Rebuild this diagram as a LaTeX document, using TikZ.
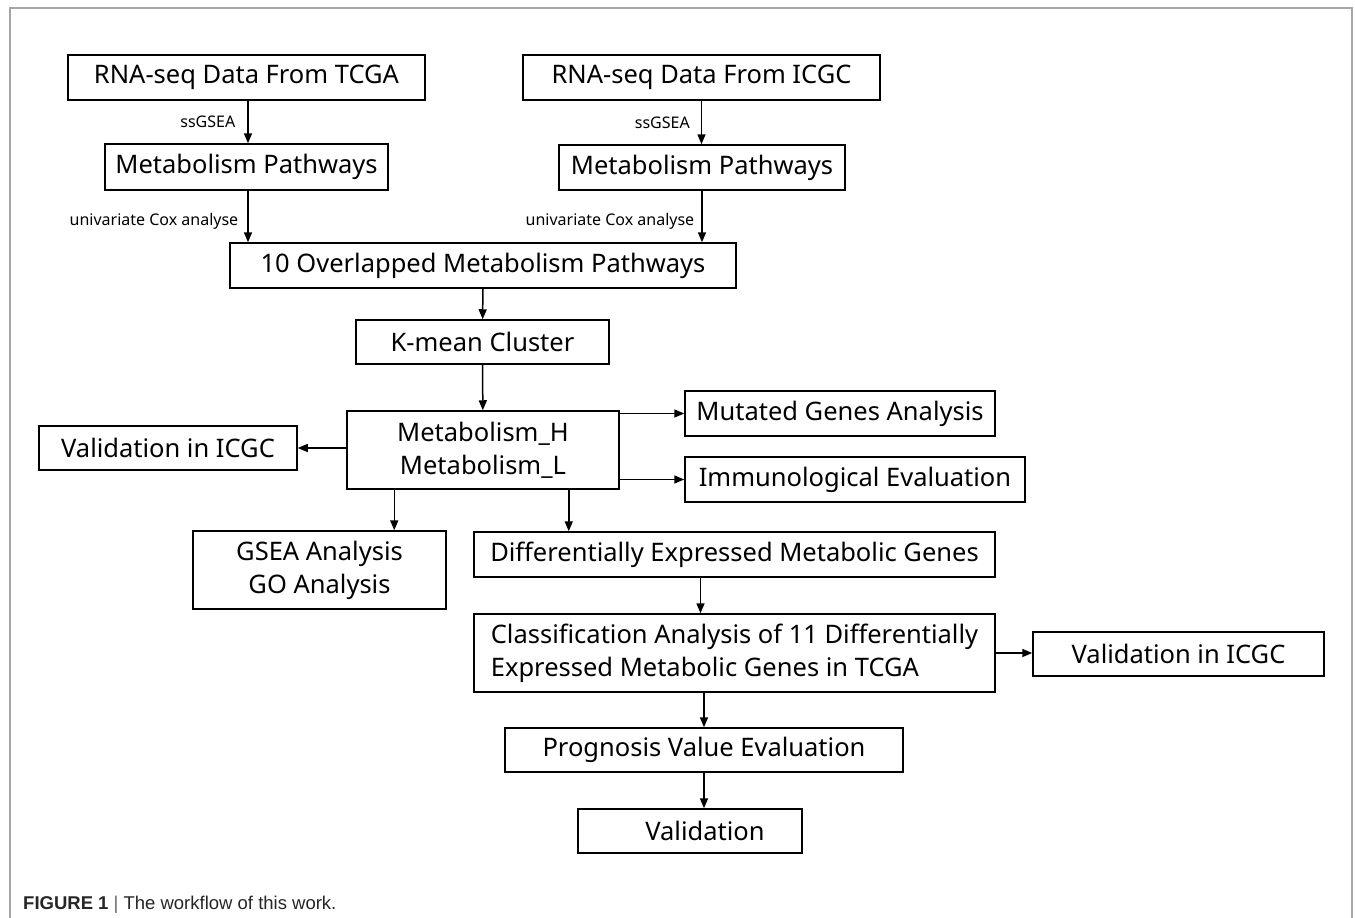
\documentclass[tikz,border=0pt]{standalone}
\usepackage{fontspec}
\setmainfont{Noto Sans}
\newfontfamily\capfont{Liberation Sans}
\usetikzlibrary{arrows.meta,positioning}

\tikzset{
  box/.style={draw, line width=1.5pt, inner sep=0pt, align=center,
    font=\fontsize{25.5pt}{33pt}\selectfont},
  lbl/.style={inner sep=0pt, font=\fontsize{16pt}{18pt}\selectfont},
  arr/.style={line width=1.5pt, -{Triangle[length=10pt,width=8pt]}},
}

\begin{document}
\begin{tikzpicture}[x=1pt, y=-1pt]
  \useasboundingbox (0,0) rectangle (1355,918);
  % frame
  \draw[black!35, line width=1.5pt] (10,918) -- (10,8) -- (1352,8) -- (1352,918);

  % boxes
  \node[box, minimum width=357pt, minimum height=45pt] (tcga) at (246.5,77.5) {RNA-seq Data From TCGA};
  \node[box, minimum width=357pt, minimum height=45pt] (icgc) at (701.5,77.5) {RNA-seq Data From ICGC};
  \node[box, minimum width=283pt, minimum height=46pt] (mpL) at (246.5,167) {Metabolism Pathways};
  \node[box, minimum width=286pt, minimum height=45pt] (mpR) at (702,167.5) {Metabolism Pathways};
  \node[box, minimum width=506pt, minimum height=45pt] (ovl) at (483,265.5) {10 Overlapped Metabolism Pathways};
  \node[box, minimum width=253pt, minimum height=44pt] (kmc) at (482.5,342) {K-mean Cluster};
  \node[box, minimum width=272pt, minimum height=78pt] (mh) at (483,450) {Metabolism\_H\\Metabolism\_L};
  \node[box, minimum width=310pt, minimum height=45pt] (mga) at (840,413.5) {Mutated Genes Analysis};
  \node[box, minimum width=340pt, minimum height=45pt] (imm) at (855,479.5) {Immunological Evaluation};
  \node[box, minimum width=258pt, minimum height=44pt] (valL) at (168,448) {Validation in ICGC};
  \node[box, minimum width=253pt, minimum height=78pt] (gsea) at (319.5,570) {GSEA Analysis\\GO Analysis};
  \node[box, minimum width=521pt, minimum height=45pt] (demg) at (734.5,554.5) {Differentially Expressed Metabolic Genes};
  \node[box, minimum width=521pt, minimum height=78pt, align=left] (cls) at (734.5,653)
    {Classification Analysis of 11 Differentially\\Expressed Metabolic Genes in TCGA};
  \node[box, minimum width=291pt, minimum height=44pt] (valR) at (1178.5,654) {Validation in ICGC};
  \node[box, minimum width=398pt, minimum height=44pt] (prog) at (704,750) {Prognosis Value Evaluation};
  \node[box, minimum width=224pt, minimum height=44pt] (val) at (690,831) {\hspace*{30pt}Validation};

  % connectors
  \draw[arr] ([xshift=1.5pt]tcga.south) -- node[lbl, left=12pt] {ssGSEA} ([xshift=1.5pt]tcga.south |- mpL.north);
  \draw[arr] (icgc.south) -- node[lbl, left=11pt] {ssGSEA} (icgc.south |- mpR.north);
  \draw[arr] ([xshift=1.5pt]mpL.south) -- node[lbl, left=9pt, pos=0.6] {univariate Cox analyse} ([xshift=1.5pt]mpL.south |- ovl.north);
  \draw[arr] (mpR.south) -- node[lbl, left=7pt, pos=0.6] {univariate Cox analyse} (mpR.south |- ovl.north);
  \draw[arr] (ovl) -- (kmc);
  \draw[arr] (kmc) -- (mh);
  \draw[arr] (mh.east |- mga.west) -- (mga.west);
  \draw[arr] (mh.east |- imm.west) -- (imm.west);
  \draw[arr] (mh.west |- valL.east) -- (valL.east);
  \draw[arr] ([xshift=48pt]mh.south west) -- ([xshift=48pt]mh.south west |- gsea.north);
  \draw[arr] ([xshift=-51pt]mh.south east) -- ([xshift=-51pt]mh.south east |- demg.north);
  \draw[arr] ([xshift=-34pt]demg.south) -- ([xshift=-34pt]demg.south |- cls.north);
  \draw[arr] (cls.east) -- (valR.west |- cls.east);
  \draw[arr] (cls.south -| prog.north) -- (prog.north);
  \draw[arr] (prog.south) -- (prog.south |- val.north);

  % caption
  \node[anchor=base west, inner sep=0pt, text=black!85,
    font=\capfont\fontsize{18.5pt}{20pt}\selectfont] (cap) at (23,909)
    {\textbf{FIGURE 1} {\color{black!60}|} The workflow of this work.};
\end{tikzpicture}
\end{document}
